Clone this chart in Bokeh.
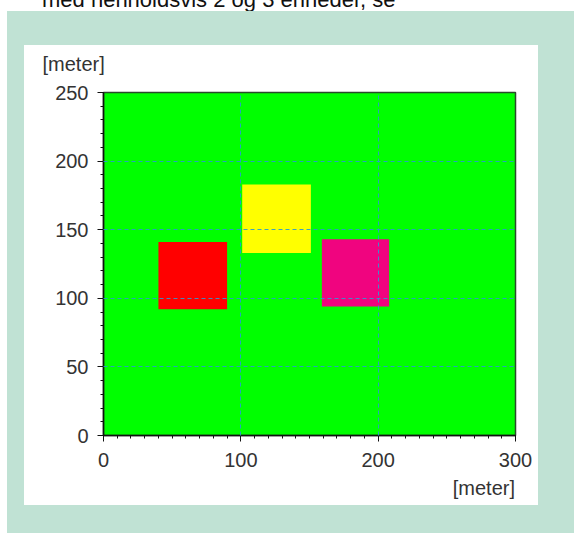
from bokeh.plotting import figure
from bokeh.layouts import column
from bokeh.models import Range1d, SingleIntervalTicker, FixedTicker, LinearAxis, Title, Div
from bokeh.embed import file_html
from bokeh.resources import INLINE

# ---- data ----
rect_left = [40, 101, 159]
rect_right = [90, 151, 208]
rect_bottom = [92, 133, 94]
rect_top = [141, 183, 143]
rect_colors = ["#ff0000", "#ffff00", "#f0047f"]

x_ticks_interval = 100
y_ticks_interval = 50
axis_unit = "[meter]"
unit_tick = 277
caption = "med henholdsvis 2 og 3 enheder, se"

FONT = "Liberation Sans"
TXT = "#333333"
BG = "#c0e2d4"

p = figure(width=514, height=472, x_range=Range1d(0, 300), y_range=Range1d(0, 250),
           output_backend="svg", toolbar_location=None,
           min_border_left=79, min_border_right=23, min_border_top=59, min_border_bottom=70)
p.margin = (-12, 0, 0, 0)
p.border_fill_color = None
p.background_fill_color = "#00ff00"
p.outline_line_color = "#2a4a2a"
p.outline_line_width = 1.5

p.quad(left=rect_left, right=rect_right, bottom=rect_bottom, top=rect_top,
       fill_color=rect_colors, line_color=None)

p.xaxis.ticker = SingleIntervalTicker(interval=x_ticks_interval, num_minor_ticks=10)
p.yaxis.ticker = SingleIntervalTicker(interval=y_ticks_interval, num_minor_ticks=5)

for ax in (p.xaxis, p.yaxis):
    ax.axis_line_color = "#111111"
    ax.axis_line_width = 1.5
    ax.major_tick_line_color = "#111111"
    ax.minor_tick_line_color = "#111111"
    ax.major_tick_out = 6
    ax.major_tick_in = 0
    ax.minor_tick_out = 3
    ax.minor_tick_in = 0
    ax.major_label_text_font = FONT
    ax.major_label_text_font_size = "20px"
    ax.major_label_text_color = TXT
p.xaxis.major_label_standoff = 11
p.yaxis.major_label_standoff = 9

# x unit label as an extra (tick-less) axis below
unit_axis = LinearAxis(ticker=FixedTicker(ticks=[unit_tick]),
                       major_label_overrides={unit_tick: axis_unit},
                       axis_line_color=None, major_tick_line_color=None,
                       minor_tick_line_color=None, major_tick_out=0, major_tick_in=0,
                       major_label_standoff=7, major_label_text_font=FONT,
                       major_label_text_font_size="20px", major_label_text_color=TXT)
p.add_layout(unit_axis, "below")

# y unit label as a left aligned title
p.title = Title(text=axis_unit, align="left", offset=-61, standoff=35,
                text_font=FONT, text_font_size="20px", text_font_style="normal",
                text_color=TXT)

p.grid.level = "overlay"
p.grid.grid_line_color = "#2a9ad0"
p.grid.grid_line_dash = "4 3"
p.grid.grid_line_width = 1
p.grid.grid_line_alpha = 0.9

cap = Div(text=caption, width=420, height=24, margin=(-13, 0, 0, 42),
          styles={"font-family": FONT, "font-size": "22px", "color": "#111111",
                  "line-height": "normal", "white-space": "nowrap"})

panel = column(p, margin=(34, 28, 20, 17), styles={"background-color": "white"})
green = column(panel, margin=(0, 0, 0, 7),
               styles={"background-color": BG, "box-shadow": "4px 4px 0 4px " + BG})
root = column(cap, green)

open("out.html", "w").write(file_html(root, INLINE))
